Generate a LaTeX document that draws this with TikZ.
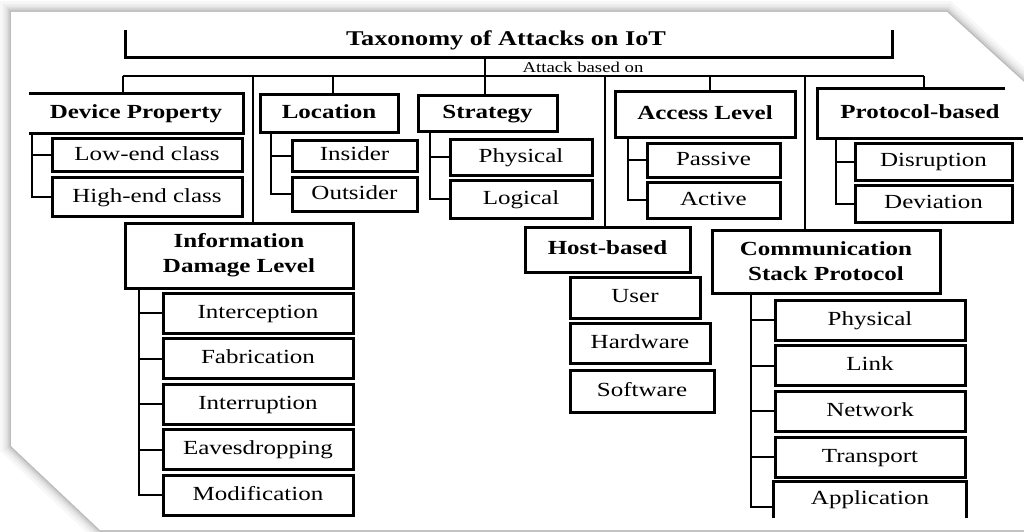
\documentclass[tikz,border=0pt]{standalone}
\usepackage{fontspec}
\setmainfont{Liberation Serif}[FakeStretch=1.25]
\begin{document}
\begin{tikzpicture}[x=1pt, y=-1pt,
        every node/.style={ font=\fontsize{20}{25}\selectfont },
        catbox/.style={ draw, line width=3pt, inner sep=0pt, align=center, text height=14pt, text depth=4pt, font=\fontsize{20}{25}\selectfont\bfseries },
        twoline/.style={ text height=, text depth= },
        openbox/.style={ catbox, draw=none },
        leafbox/.style={ draw, line width=3pt, inner sep=0pt, text height=14pt, text depth=4pt },
        conn/.style={ line width=2pt },
        edge/.style={ line width=3pt, line join=miter }]
        \useasboundingbox ( 0, 0 ) rectangle ( 1024, 532 );

        % лист с тенью
        \foreach \w/\o in { 22/0.03, 16/0.04, 11/0.05, 7/0.07, 3/0.1 }
            \draw [ line width=\w pt, black, opacity=\o, line join=miter ] ( 11, 12 ) -- ( 947, 12 ) -- ( 1024, 82 ) -- ( 1024, 530 ) -- ( 100, 530 ) -- ( 11, 446 ) -- cycle;
        \fill [ white ] ( 11, 12 ) -- ( 947, 12 ) -- ( 1024, 82 ) -- ( 1024, 530 ) -- ( 100, 530 ) -- ( 11, 446 ) -- cycle;

        % заголовок
        \node [ font=\fontsize{21}{21}\selectfont\bfseries ] (title) at ( 506, 40 ) {Taxonomy of Attacks on IoT};
        \draw [ edge ] ( 125, 30 ) |- ( 892, 58 ) -- ( 892, 30 );
        \node [ font=\fontsize{15}{15}\selectfont ] (basedon) at ( 583, 67 ) {Attack based on};

        % шина
        \coordinate (root) at ( 485, 58 );
        \coordinate (d1) at ( 123, 76 );
        \coordinate (d2) at ( 253, 76 );
        \coordinate (d3) at ( 333, 76 );
        \coordinate (d4) at ( 485, 76 );
        \coordinate (d5) at ( 605, 76 );
        \coordinate (d6) at ( 710, 76 );
        \coordinate (d7) at ( 805, 76 );
        \coordinate (d8) at ( 924, 76 );
        \draw [ conn ] (d1) -- (d8);

        % Device Property
        \node [ openbox, minimum width=212pt, minimum height=37pt ] (devprop) at ( 136, 113.5 ) {Device Property};
        \draw [ edge ] (devprop.north west) -- (devprop.north east) -- (devprop.south east) -- (devprop.south west);
        \node [ leafbox, minimum width=190pt, minimum height=33pt ] (lowend) at ( 147, 155 ) {Low-end class};
        \node [ leafbox, minimum width=190pt, minimum height=39pt ] (highend) at ( 147, 197 ) {High-end class};
        \draw [ conn ] (d1) -- (d1 |- devprop.north);
        \draw [ conn ] ([xshift=3pt]devprop.south west) |- (lowend.west);
        \draw [ conn ] ([xshift=3pt]devprop.south west) |- (highend.west);

        % Location
        \node [ catbox, minimum width=138pt, minimum height=37pt ] (location) at ( 329, 113.5 ) {Location};
        \node [ leafbox, minimum width=125pt, minimum height=31pt ] (insider) at ( 354.5, 155.5 ) {Insider};
        \node [ leafbox, minimum width=125pt, minimum height=34pt ] (outsider) at ( 354.5, 194 ) {Outsider};
        \draw [ conn ] (d3) -- (d3 |- location.north);
        \draw [ conn ] ([xshift=12pt]location.south west) |- (insider.west);
        \draw [ conn ] ([xshift=12pt]location.south west) |- (outsider.west);

        % Strategy
        \node [ catbox, minimum width=139pt, minimum height=36pt ] (strategy) at ( 487.5, 113.5 ) {Strategy};
        \node [ leafbox, minimum width=142pt, minimum height=36pt ] (physical) at ( 521, 157 ) {Physical};
        \node [ leafbox, minimum width=142pt, minimum height=38pt ] (logical) at ( 521, 199 ) {Logical};
        \draw [ conn ] (root) -- (root |- strategy.north);
        \draw [ conn ] ([xshift=13pt]strategy.south west) |- (physical.west);
        \draw [ conn ] ([xshift=13pt]strategy.south west) |- (logical.west);

        % Access Level
        \node [ catbox, minimum width=180pt, minimum height=45pt ] (access) at ( 705, 114.5 ) {Access Level};
        \node [ leafbox, minimum width=133pt, minimum height=34pt ] (passive) at ( 713.5, 160 ) {Passive};
        \node [ leafbox, minimum width=133pt, minimum height=36pt ] (active) at ( 713.5, 200 ) {Active};
        \draw [ conn ] (d6) -- (d6 |- access.north);
        \draw [ conn ] ([xshift=14pt]access.south west) |- (passive.west);
        \draw [ conn ] ([xshift=14pt]access.south west) |- (active.west);

        % Protocol-based
        \node [ openbox, minimum width=202pt, minimum height=47pt ] (protocol) at ( 920, 113.5 ) {Protocol-based};
        \draw [ edge ] ([xshift=-18pt]protocol.north east) -- (protocol.north west) -- (protocol.south west) -- (protocol.south east);
        \node [ leafbox, minimum width=157pt, minimum height=37pt ] (disruption) at ( 933.5, 161.5 ) {Disruption};
        \node [ leafbox, minimum width=157pt, minimum height=37pt ] (deviation) at ( 933.5, 203.5 ) {Deviation};
        \draw [ conn ] (d8) -- (d8 |- protocol.north);
        \draw [ conn ] ([xshift=18pt]protocol.south west) |- (disruption.west);
        \draw [ conn ] ([xshift=18pt]protocol.south west) |- (deviation.west);

        % Information Damage Level
        \node [ catbox, twoline, minimum width=228pt, minimum height=65pt ] (infodmg) at ( 239, 255.5 ) {Information\\Damage Level};
        \foreach \name/\txt [count=\i from 0] in {intercept/Interception, fabric/Fabrication, interrupt/Interruption, eaves/Eavesdropping, modif/Modification} {
            \node [ leafbox, minimum width=190pt, minimum height=40pt ] (\name) at ( 258, 313 + 45.5*\i ) {\txt};
            \draw [ conn ] ([xshift=15pt]infodmg.south west) |- (\name.west);
        }
        \draw [ conn ] (d2) -- (d2 |- infodmg.north);

        % Host-based
        \node [ catbox, minimum width=165pt, minimum height=45pt ] (host) at ( 607.5, 249.5 ) {Host-based};
        \node [ leafbox, minimum width=130pt, minimum height=41pt ] (user) at ( 635, 297.5 ) {User};
        \node [ leafbox, minimum width=140pt, minimum height=40pt ] (hardware) at ( 640, 343 ) {Hardware};
        \node [ leafbox, minimum width=144pt, minimum height=42pt ] (software) at ( 642, 391 ) {Software};
        \draw [ conn ] (d5) -- (d5 |- host.north);

        % Communication Stack Protocol
        \node [ catbox, twoline, minimum width=228pt, minimum height=63pt ] (commstack) at ( 826, 261.5 ) {Communication\\Stack Protocol};
        \foreach \name/\txt [count=\i from 0] in {layphys/Physical, link/Link, network/Network, transport/Transport} {
            \node [ leafbox, minimum width=190pt, minimum height=40pt ] (\name) at ( 870, 320 + 45.7*\i ) {\txt};
            \draw [ conn ] ([xshift=40pt]commstack.south west) |- (\name.west);
        }
        \node [ leafbox, draw=none, minimum width=190pt, minimum height=33pt ] (application) at ( 870, 499.5 ) {Application};
        \draw [ edge ] (application.south west) -- (application.north west) -- (application.north east) -- (application.south east);
        \draw [ conn ] ([xshift=40pt]commstack.south west) |- ([yshift=-7pt]application.west);
        \draw [ conn ] (d7) -- (d7 |- commstack.north);
    \end{tikzpicture}
\end{document}
